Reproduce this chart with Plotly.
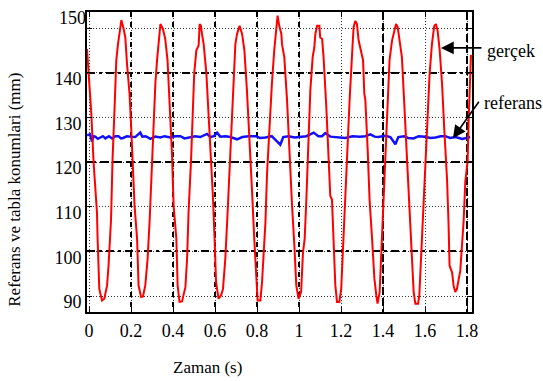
import plotly.graph_objects as go

# ---- data ----
gercek_t = [-0.0095, 0.003, 0.011, 0.022, 0.038, 0.041, 0.049, 0.062, 0.073, 0.086, 0.093, 0.105, 0.112,
            0.122, 0.130, 0.138, 0.146, 0.154, 0.165, 0.173, 0.181, 0.193, 0.200, 0.208, 0.217, 0.229,
            0.236, 0.248, 0.257, 0.268, 0.279, 0.289, 0.297, 0.305, 0.316, 0.324, 0.332, 0.340, 0.352,
            0.363, 0.374, 0.384, 0.395, 0.403, 0.416, 0.422, 0.431, 0.443, 0.459, 0.467, 0.474, 0.486,
            0.495, 0.501, 0.511, 0.522, 0.527, 0.533, 0.538, 0.546, 0.559, 0.570, 0.581, 0.590, 0.598,
            0.605, 0.617, 0.629, 0.638, 0.649, 0.660, 0.670, 0.681, 0.689, 0.697, 0.705, 0.717, 0.729,
            0.740, 0.752, 0.765, 0.776, 0.787, 0.797, 0.803, 0.816, 0.824, 0.831, 0.840, 0.848, 0.860,
            0.871, 0.882, 0.892, 0.898, 0.906, 0.916, 0.919, 0.930, 0.943, 0.955, 0.967, 0.978, 0.987,
            0.998, 1.010, 1.019, 1.027, 1.035, 1.043, 1.054, 1.065, 1.073, 1.078, 1.086, 1.097, 1.101,
            1.110, 1.117, 1.130, 1.141, 1.149, 1.157, 1.165, 1.173, 1.181, 1.192, 1.201, 1.210, 1.220,
            1.231, 1.241, 1.252, 1.260, 1.268, 1.276, 1.284, 1.295, 1.305, 1.311, 1.316, 1.327, 1.336,
            1.348, 1.359, 1.368, 1.374, 1.384, 1.392, 1.400, 1.411, 1.422, 1.431, 1.443, 1.450, 1.462,
            1.470, 1.479, 1.490, 1.498, 1.511, 1.522, 1.530, 1.538, 1.546, 1.554, 1.567, 1.573, 1.581,
            1.590, 1.601, 1.612, 1.622, 1.633, 1.644, 1.652, 1.660, 1.670, 1.681, 1.692, 1.705, 1.712,
            1.717, 1.729, 1.736, 1.744, 1.752, 1.768, 1.784, 1.792, 1.803, 1.808, 1.819]
gercek_v = [145.3, 137.6, 130.9, 119.8, 108.7, 102.8, 91.6, 89.0, 89.4, 92.4, 96.8, 107.2, 120.5,
            132.4, 142.8, 146.4, 149.4, 151.8, 149.8, 147.9, 142.0, 135.3, 128.7, 119.8, 110.2, 102.8,
            92.4, 89.8, 89.9, 92.4, 98.3, 107.2, 116.1, 126.4, 137.6, 142.8, 146.4, 150.9, 149.8,
            147.6, 142.8, 133.9, 122.0, 110.2, 102.8, 92.4, 88.7, 88.8, 92.0, 98.3, 108.7, 120.5,
            130.9, 139.8, 145.0, 146.1, 150.9, 150.5, 148.7, 146.4, 139.8, 130.2, 121.3, 112.4, 102.8,
            93.1, 89.4, 90.2, 91.6, 98.3, 108.7, 119.8, 130.9, 139.8, 146.4, 148.7, 150.5, 148.7,
            145.0, 136.1, 125.0, 113.9, 102.8, 93.1, 89.0, 89.0, 93.1, 99.0, 106.4, 117.6, 128.7,
            137.6, 145.0, 150.2, 152.8, 150.5, 148.7, 146.4, 143.5, 133.9, 121.3, 110.2, 101.3, 92.4,
            89.4, 90.9, 99.8, 102.8, 111.6, 123.5, 136.1, 143.5, 145.7, 148.7, 150.5, 150.5, 147.9,
            147.6, 143.5, 132.4, 121.3, 112.4, 111.6, 101.3, 92.4, 88.7, 88.7, 91.6, 101.3, 113.1,
            125.0, 133.9, 143.5, 150.2, 151.6, 150.9, 147.2, 145.0, 142.8, 135.3, 133.9, 122.8, 111.6,
            102.8, 93.9, 90.2, 88.3, 90.9, 99.8, 108.7, 121.3, 133.9, 142.8, 147.2, 148.7, 150.9,
            150.2, 147.2, 143.5, 136.1, 123.5, 113.1, 105.7, 96.8, 90.9, 88.3, 88.3, 90.2, 98.3,
            107.2, 119.0, 130.9, 139.8, 146.4, 150.5, 150.9, 149.4, 145.0, 137.6, 127.2, 116.1, 106.4,
            96.8, 95.3, 92.4, 90.9, 91.6, 95.7, 106.8, 115.7, 120.2, 129.8, 144.0]

referans_t = [-0.009, 0.005, 0.014, 0.022, 0.030, 0.042, 0.054, 0.066, 0.078, 0.095, 0.110, 0.125,
              0.140, 0.152, 0.163, 0.180, 0.197, 0.220, 0.244, 0.254, 0.270, 0.292, 0.316, 0.340,
              0.360, 0.387, 0.410, 0.435, 0.455, 0.482, 0.505, 0.530, 0.562, 0.578, 0.595, 0.610,
              0.625, 0.650, 0.673, 0.705, 0.730, 0.760, 0.792, 0.815, 0.840, 0.870, 0.911, 0.925,
              0.950, 0.980, 1.006, 1.035, 1.070, 1.092, 1.110, 1.125, 1.149, 1.180, 1.220, 1.255,
              1.290, 1.315, 1.340, 1.360, 1.378, 1.410, 1.435, 1.459, 1.473, 1.500, 1.520, 1.545,
              1.570, 1.600, 1.625, 1.650, 1.675, 1.697, 1.720, 1.745, 1.778, 1.815]
referans_v = [126.0, 126.2, 124.6, 125.8, 125.7, 125.2, 125.5, 125.8, 125.3, 125.8, 125.3, 125.8,
              125.8, 125.3, 125.4, 125.8, 125.7, 125.6, 126.6, 125.7, 125.8, 125.2, 125.7, 125.5,
              125.8, 125.5, 125.8, 125.8, 125.3, 125.5, 125.8, 125.6, 126.3, 125.6, 125.8, 126.6,
              125.7, 125.8, 125.6, 125.1, 125.6, 125.8, 125.8, 125.4, 125.5, 125.8, 123.9, 125.6,
              125.8, 125.5, 125.7, 125.8, 126.6, 125.8, 125.8, 126.5, 125.7, 125.5, 125.4, 125.8,
              125.7, 125.8, 126.2, 125.7, 125.6, 125.9, 125.6, 124.0, 125.6, 125.8, 125.4, 125.3,
              125.8, 125.7, 125.4, 125.5, 125.8, 125.8, 125.4, 125.6, 125.2, 125.6]

x_ticks = [0, 0.2, 0.4, 0.6, 0.8, 1.0, 1.2, 1.4, 1.6, 1.8]
x_tick_text = ["0", "0.2", "0.4", "0.6", "0.8", "1", "1.2", "1.4", "1.6", "1.8"]
y_ticks = [90, 100, 110, 120, 130, 140, 150]
y_tick_text = ["90", "100", "110", "120", "130", "140", ""]
x_heavy_short = [0.2, 0.4, 0.6, 0.8, 1.0]
x_heavy_long = [1.4, 1.8]
y_heavy_dashdot = [100, 140]
y_heavy_dash = [120]

x_range = [-0.0095, 1.8238]
y_range = [86.44, 153.6]

FONT = "Liberation Serif, Times New Roman, serif"

fig = go.Figure()
fig.add_trace(go.Scatter(x=referans_t, y=referans_v, mode="lines",
                         line=dict(color="#1010ff", width=2.5), showlegend=False))
fig.add_trace(go.Scatter(x=gercek_t, y=gercek_v, mode="lines",
                         line=dict(color="#ff0000", width=2), showlegend=False))

base_x = dict(range=x_range, tickvals=x_ticks, ticktext=x_tick_text, showline=True, linewidth=2,
              linecolor="black", mirror="ticks", ticks="inside", ticklen=5, tickcolor="black",
              showgrid=True, gridcolor="#333", gridwidth=1, griddash="1px,2px", zeroline=False,
              tickfont=dict(family=FONT, size=18, color="black"), ticklabelstandoff=1)
base_y = dict(range=y_range, tickvals=y_ticks, ticktext=y_tick_text, showline=True, linewidth=2,
              linecolor="black", mirror="ticks", ticks="inside", ticklen=5, tickcolor="black",
              showgrid=True, gridcolor="#333", gridwidth=1, griddash="1px,2px", zeroline=False,
              tickfont=dict(family=FONT, size=18, color="black"), ticklabelshift=6)

def overlay_x(vals, dash):
    return dict(range=x_range, overlaying="x", anchor="y", tickvals=vals, showticklabels=False,
                ticks="", showline=False, showgrid=True, gridcolor="black", gridwidth=2.2,
                griddash=dash, zeroline=False)

def overlay_y(vals, dash):
    return dict(range=y_range, overlaying="y", anchor="x", tickvals=vals, showticklabels=False,
                ticks="", showline=False, showgrid=True, gridcolor="black", gridwidth=2.2,
                griddash=dash, zeroline=False)

fig.update_layout(
    width=543, height=381,
    margin=dict(l=87, r=71, t=9, b=69),
    paper_bgcolor="white", plot_bgcolor="white",
    xaxis=base_x, yaxis=base_y,
    xaxis2=overlay_x(x_heavy_short, "5px,5px"),
    xaxis3=overlay_x(x_heavy_long, "8px,3px"),
    yaxis2=overlay_y(y_heavy_dashdot, "8px,4px,3px,4px"),
    yaxis3=overlay_y(y_heavy_dash, "9px,4px"),
    yaxis4=dict(range=y_range, overlaying="y", anchor="x", tickvals=[150], ticktext=["150"],
                showgrid=False, showline=False, ticks="", zeroline=False, ticklabelshift=-10,
                tickfont=dict(family=FONT, size=18, color="black")),
    showlegend=False,
)

# invisible traces so every overlay axis is drawn
for xa, ya in [("x2", "y"), ("x3", "y"), ("x", "y2"), ("x", "y3"), ("x", "y4")]:
    fig.add_trace(go.Scatter(x=[], y=[], xaxis=xa, yaxis=ya, showlegend=False, hoverinfo="skip"))

ann_font = dict(family=FONT, size=18, color="black")
fig.add_annotation(text="Referans ve tabla konumlari (mm)", xref="paper", yref="paper",
                   x=-0.187, y=0.4076, textangle=-90, showarrow=False,
                   xanchor="center", yanchor="middle", font=dict(family=FONT, size=17, color="black"))
fig.add_annotation(text="Zaman (s)", xref="paper", yref="paper", x=0.3117, y=-0.1848,
                   showarrow=False, xanchor="center", yanchor="middle",
                   font=dict(family=FONT, size=17, color="black"))
fig.add_annotation(text="gerçek", xref="paper", yref="paper", x=1.0338, y=0.8713,
                   showarrow=False, xanchor="left", yanchor="middle", font=ann_font)
fig.add_annotation(text="referans", xref="paper", yref="paper", x=1.025, y=0.6964,
                   showarrow=False, xanchor="left", yanchor="middle", font=ann_font)
fig.add_annotation(text="", x=1.676, y=145.56, xref="x", yref="y", showarrow=True,
                   ax=42, ay=0, arrowhead=2, arrowsize=1.6, arrowwidth=1.6, arrowcolor="black")
fig.add_annotation(text="", x=1.733, y=125.33, xref="x", yref="y", showarrow=True,
                   ax=27, ay=-38, arrowhead=2, arrowsize=1.6, arrowwidth=1.6, arrowcolor="black")

fig.write_html("out.html", config={"displayModeBar": False},
               post_script="document.body.style.margin='0';")
